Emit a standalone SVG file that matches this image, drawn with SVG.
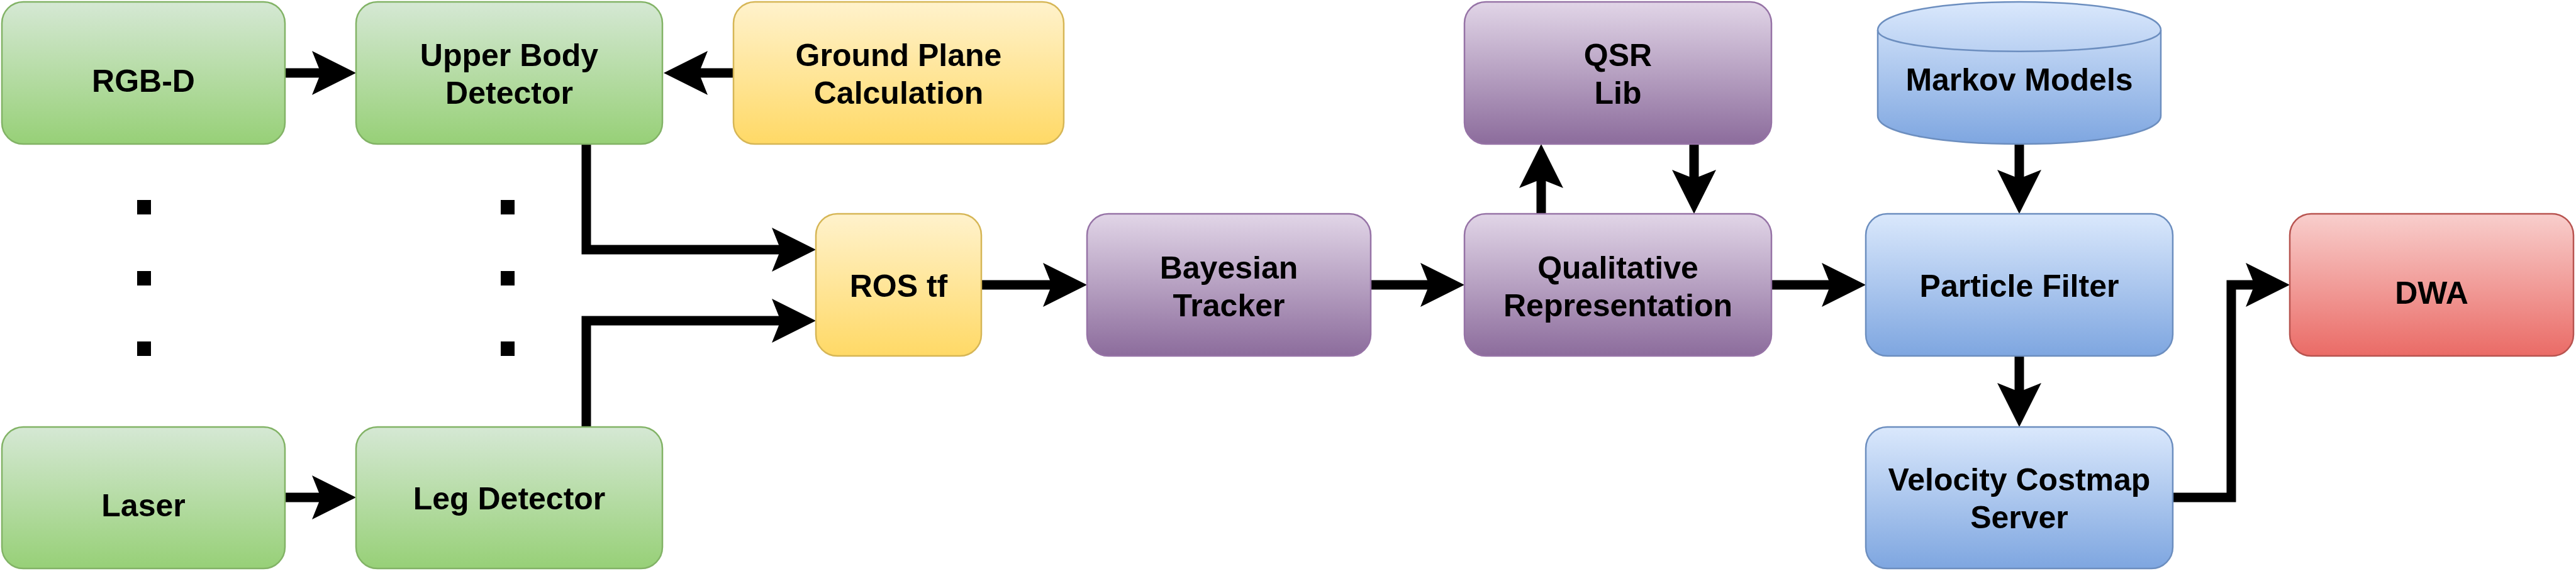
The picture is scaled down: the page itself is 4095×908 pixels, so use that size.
<svg xmlns="http://www.w3.org/2000/svg" width="4095" height="908" viewBox="0 0 4095 908">
<style>
.lbl{font-family:"Liberation Sans",Arial,Helvetica,sans-serif;font-weight:bold;font-size:50px;fill:#000;text-anchor:middle}
.green{fill:url(#gGreen);stroke:#82b366;stroke-width:2.5}
.yellow{fill:url(#gYellow);stroke:#d6b656;stroke-width:2.5}
.purple{fill:url(#gPurple);stroke:#9673a6;stroke-width:2.5}
.blue{fill:url(#gBlue);stroke:#6c8ebf;stroke-width:2.5}
.red{fill:url(#gRed);stroke:#b85450;stroke-width:2.5}
.edge{fill:none;stroke:#000;stroke-width:15;marker-end:url(#arr)}
.dot{fill:#000}
</style>
<defs>
<linearGradient id="gGreen" x1="0" y1="0" x2="0" y2="1"><stop offset="0" stop-color="#d5e8d4"/><stop offset="1" stop-color="#97d077"/></linearGradient>
<linearGradient id="gYellow" x1="0" y1="0" x2="0" y2="1"><stop offset="0" stop-color="#fff2cc"/><stop offset="1" stop-color="#ffd966"/></linearGradient>
<linearGradient id="gPurple" x1="0" y1="0" x2="0" y2="1"><stop offset="0" stop-color="#e1d5e7"/><stop offset="1" stop-color="#8c6c9c"/></linearGradient>
<linearGradient id="gBlue" x1="0" y1="0" x2="0" y2="1"><stop offset="0" stop-color="#dae8fc"/><stop offset="1" stop-color="#7ea6e0"/></linearGradient>
<linearGradient id="gRed" x1="0" y1="0" x2="0" y2="1"><stop offset="0" stop-color="#f8cecc"/><stop offset="1" stop-color="#ea6b66"/></linearGradient>
<marker id="arr" markerUnits="userSpaceOnUse" viewBox="0 0 70 70" markerWidth="70" markerHeight="70" refX="14" refY="35" orient="auto">
<path d="M0,0 L70,35 L0,70 L14,35 Z" fill="#000"/>
</marker>
</defs>

<g id="connectors">
<path class="edge" d="M453,116 L510,116"/>
<path class="edge" d="M453,791 L510,791"/>
<path class="edge" d="M1166,116 L1111,116"/>
<path class="edge" d="M932,229 L932,397 L1241,397"/>
<path class="edge" d="M932,679 L932,510 L1241,510"/>
<path class="edge" d="M1560,453 L1672,453"/>
<path class="edge" d="M2179,453 L2272,453"/>
<path class="edge" d="M2450,340 L2450,285"/>
<path class="edge" d="M2693,229 L2693,284"/>
<path class="edge" d="M2816,453 L2910,453"/>
<path class="edge" d="M3210,229 L3210,284"/>
<path class="edge" d="M3210,566 L3210,623"/>
<path class="edge" d="M3454,791 L3547,791 L3547,453 L3584,453"/>
</g>

<g id="ellipsis-dots">
<rect class="dot" x="218" y="318" width="22" height="23"/>
<rect class="dot" x="218" y="431" width="22" height="23"/>
<rect class="dot" x="218" y="543" width="22" height="23"/>
<rect class="dot" x="796" y="318" width="22" height="23"/>
<rect class="dot" x="796" y="431" width="22" height="23"/>
<rect class="dot" x="796" y="543" width="22" height="23"/>
</g>

<g id="rgbd"><rect class="green" x="3" y="3" width="450" height="226" rx="34"/><text class="lbl" x="228" y="146">RGB-D</text></g>
<g id="laser"><rect class="green" x="3" y="679" width="450" height="225" rx="34"/><text class="lbl" x="228" y="821">Laser</text></g>
<g id="upper-body-detector"><rect class="green" x="566" y="3" width="487" height="226" rx="34"/><text class="lbl" x="809.5" y="105">Upper Body</text><text class="lbl" x="809.5" y="165">Detector</text></g>
<g id="leg-detector"><rect class="green" x="566" y="679" width="487" height="225" rx="34"/><text class="lbl" x="809.5" y="810">Leg Detector</text></g>
<g id="ground-plane"><rect class="yellow" x="1166" y="3" width="525" height="226" rx="34"/><text class="lbl" x="1428.5" y="105">Ground Plane</text><text class="lbl" x="1428.5" y="165">Calculation</text></g>
<g id="ros-tf"><rect class="yellow" x="1297" y="340" width="263" height="226" rx="34"/><text class="lbl" x="1428.5" y="472">ROS tf</text></g>
<g id="bayesian-tracker"><rect class="purple" x="1728" y="340" width="451" height="226" rx="34"/><text class="lbl" x="1953.5" y="443">Bayesian</text><text class="lbl" x="1953.5" y="503">Tracker</text></g>
<g id="qsr-lib"><rect class="purple" x="2328" y="3" width="488" height="226" rx="34"/><text class="lbl" x="2572" y="105">QSR</text><text class="lbl" x="2572" y="165">Lib</text></g>
<g id="qualitative-representation"><rect class="purple" x="2328" y="340" width="488" height="226" rx="34"/><text class="lbl" x="2572" y="443">Qualitative</text><text class="lbl" x="2572" y="503">Representation</text></g>
<g id="markov-models"><path class="blue" d="M2985,48 C2985,-12 3435,-12 3435,48 L3435,184 C3435,244 2985,244 2985,184 Z"/><path d="M2985,48 C2985,93 3435,93 3435,48" fill="none" stroke="#6c8ebf" stroke-width="2.5"/><text class="lbl" x="3210" y="144">Markov Models</text></g>
<g id="particle-filter"><rect class="blue" x="2966" y="340" width="488" height="226" rx="34"/><text class="lbl" x="3210" y="472">Particle Filter</text></g>
<g id="velocity-costmap-server"><rect class="blue" x="2966" y="679" width="488" height="225" rx="34"/><text class="lbl" x="3210" y="780">Velocity Costmap</text><text class="lbl" x="3210" y="840">Server</text></g>
<g id="dwa"><rect class="red" x="3640" y="340" width="451" height="226" rx="34"/><text class="lbl" x="3865.5" y="483">DWA</text></g>
</svg>
